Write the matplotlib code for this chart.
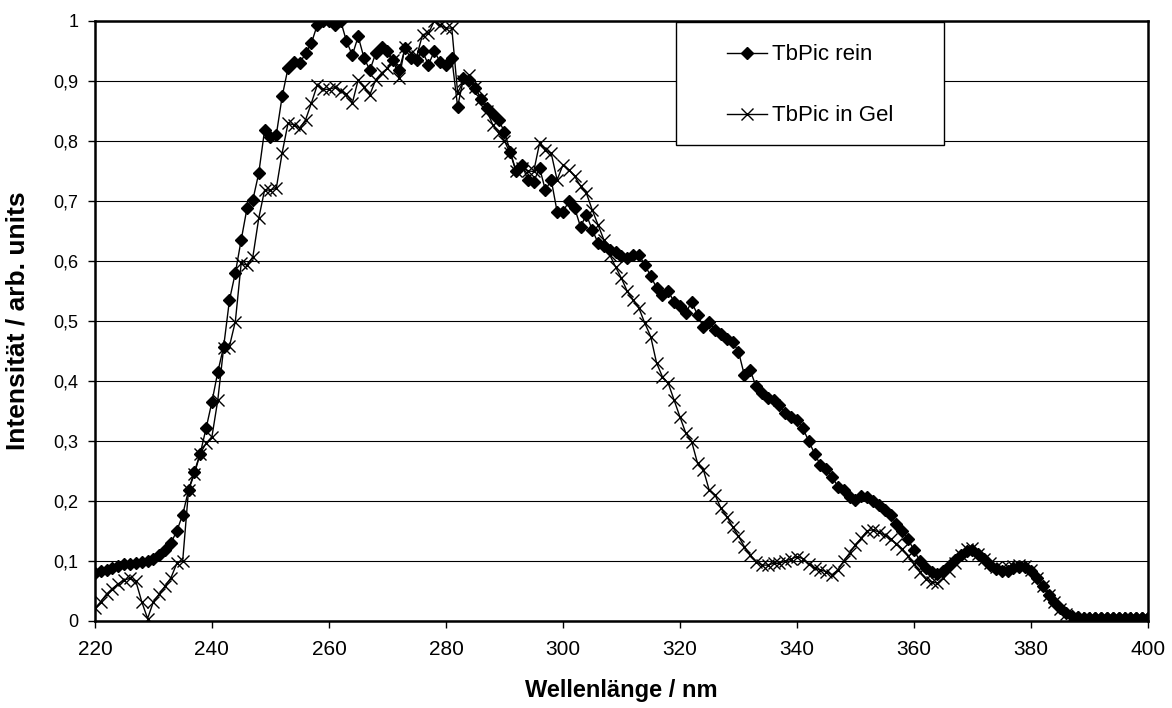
import numpy as np
import matplotlib
matplotlib.use('Agg')
import matplotlib.pyplot as plt
from matplotlib.patches import Rectangle

plt.rcParams['font.family'] = ['Liberation Sans', 'DejaVu Sans']

wavelength = np.arange(220, 401)

rein = [
    0.080, 0.083, 0.085, 0.088, 0.092, 0.095, 0.095, 0.097, 0.098, 0.100,  # 220-229
    0.104, 0.110, 0.118, 0.130, 0.150, 0.177, 0.218, 0.249, 0.279, 0.321,  # 230-239
    0.365, 0.415, 0.457, 0.535, 0.580, 0.635, 0.688, 0.702, 0.746, 0.818,  # 240-249
    0.807, 0.810, 0.874, 0.921, 0.932, 0.929, 0.946, 0.963, 0.993, 0.999,  # 250-259
    1.000, 0.993, 1.000, 0.966, 0.943, 0.974, 0.938, 0.918, 0.946, 0.957,  # 260-269
    0.949, 0.935, 0.918, 0.954, 0.938, 0.935, 0.949, 0.927, 0.949, 0.932,  # 270-279
    0.927, 0.938, 0.857, 0.904, 0.902, 0.888, 0.870, 0.854, 0.845, 0.835,  # 280-289
    0.815, 0.782, 0.749, 0.760, 0.735, 0.732, 0.755, 0.718, 0.735, 0.682,  # 290-299
    0.682, 0.699, 0.688, 0.657, 0.677, 0.652, 0.630, 0.624, 0.618, 0.614,  # 300-309
    0.608, 0.604, 0.610, 0.610, 0.593, 0.575, 0.555, 0.543, 0.549, 0.532,  # 310-319
    0.525, 0.513, 0.532, 0.510, 0.490, 0.499, 0.485, 0.479, 0.470, 0.465,  # 320-329
    0.449, 0.410, 0.418, 0.391, 0.380, 0.372, 0.368, 0.360, 0.346, 0.340,  # 330-339
    0.335, 0.321, 0.300, 0.279, 0.260, 0.254, 0.240, 0.224, 0.218, 0.207,  # 340-349
    0.202, 0.208, 0.206, 0.200, 0.193, 0.185, 0.176, 0.162, 0.150, 0.136,  # 350-359
    0.118, 0.100, 0.088, 0.082, 0.079, 0.084, 0.092, 0.102, 0.110, 0.117,  # 360-369
    0.118, 0.111, 0.104, 0.094, 0.087, 0.083, 0.084, 0.088, 0.090, 0.090,  # 370-379
    0.084, 0.072, 0.058, 0.044, 0.032, 0.022, 0.013, 0.008, 0.006, 0.005,  # 380-389
    0.005, 0.005, 0.005, 0.005, 0.005, 0.005, 0.005, 0.005, 0.005, 0.005,  # 390-399
    0.005,                                                                 # 400
]

gel = [
    0.021, 0.032, 0.045, 0.054, 0.062, 0.068, 0.071, 0.066, 0.032, 0.004,  # 220-229
    0.032, 0.045, 0.058, 0.072, 0.096, 0.100, 0.218, 0.245, 0.279, 0.296,  # 230-239
    0.307, 0.368, 0.455, 0.458, 0.499, 0.596, 0.593, 0.607, 0.671, 0.718,  # 240-249
    0.718, 0.721, 0.780, 0.829, 0.827, 0.821, 0.835, 0.863, 0.893, 0.886,  # 250-259
    0.886, 0.889, 0.883, 0.878, 0.863, 0.902, 0.889, 0.877, 0.902, 0.913,  # 260-269
    0.921, 0.935, 0.904, 0.957, 0.946, 0.941, 0.977, 0.979, 1.000, 0.993,  # 270-279
    0.988, 0.988, 0.880, 0.900, 0.910, 0.890, 0.870, 0.850, 0.827, 0.813,  # 280-289
    0.800, 0.779, 0.749, 0.755, 0.750, 0.749, 0.796, 0.785, 0.779, 0.735,  # 290-299
    0.760, 0.752, 0.741, 0.725, 0.713, 0.685, 0.660, 0.635, 0.610, 0.590,  # 300-309
    0.571, 0.549, 0.535, 0.521, 0.496, 0.474, 0.430, 0.407, 0.396, 0.368,  # 310-319
    0.340, 0.313, 0.299, 0.263, 0.252, 0.218, 0.210, 0.188, 0.174, 0.157,  # 320-329
    0.141, 0.124, 0.110, 0.099, 0.093, 0.093, 0.096, 0.096, 0.100, 0.103,  # 330-339
    0.107, 0.104, 0.095, 0.088, 0.085, 0.082, 0.077, 0.085, 0.100, 0.113,  # 340-349
    0.127, 0.138, 0.150, 0.152, 0.148, 0.143, 0.136, 0.129, 0.120, 0.108,  # 350-359
    0.095, 0.082, 0.070, 0.065, 0.063, 0.071, 0.084, 0.097, 0.110, 0.120,  # 360-369
    0.122, 0.112, 0.104, 0.096, 0.090, 0.088, 0.090, 0.092, 0.093, 0.092,  # 370-379
    0.085, 0.072, 0.058, 0.044, 0.032, 0.020, 0.012, 0.007, 0.005, 0.005,  # 380-389
    0.005, 0.005, 0.005, 0.005, 0.005, 0.005, 0.005, 0.005, 0.005, 0.005,  # 390-399
    0.005,                                                                 # 400
]

y_ticks = [0, 0.1, 0.2, 0.3, 0.4, 0.5, 0.6, 0.7, 0.8, 0.9, 1]
y_ticklabels = ['0', '0,1', '0,2', '0,3', '0,4', '0,5', '0,6', '0,7', '0,8', '0,9', '1']
x_ticks = [220, 240, 260, 280, 300, 320, 340, 360, 380, 400]


def main():
    fig = plt.figure(figsize=(11.72, 7.08), dpi=100)
    ax = fig.add_axes([0.081, 0.123, 0.8985, 0.8475])

    ax.plot(wavelength, rein, color='black', lw=1, marker='D', markersize=6,
            label='TbPic rein', zorder=3)
    ax.plot(wavelength, gel, color='black', lw=1, marker='x', markersize=9,
            markeredgewidth=1, label='TbPic in Gel', zorder=3)

    ax.set_xlim(220, 400)
    ax.set_ylim(0, 1)
    ax.set_xticks(x_ticks)
    ax.set_yticks(y_ticks)
    ax.set_yticklabels(y_ticklabels)
    ax.tick_params(direction='out', length=5, width=1, colors='black')
    ax.tick_params(axis='y', labelsize=13, pad=7)
    ax.tick_params(axis='x', labelsize=15, pad=9)
    ax.yaxis.grid(True, color='black', lw=0.8)
    ax.set_axisbelow(True)
    for s in ax.spines.values():
        s.set_linewidth(1.8)

    ax.set_xlabel('Wellenlänge / nm', fontsize=17, fontweight='bold')
    ax.xaxis.set_label_coords(0.5, -0.096)
    ax.set_ylabel('Intensität / arb. units', fontsize=19, fontweight='bold')
    ax.yaxis.label.set_verticalalignment('center')
    ax.yaxis.set_label_coords(-0.074, 0.5)

    box = Rectangle((0.552, 0.793), 0.254, 0.205, transform=ax.transAxes,
                    facecolor='white', edgecolor='black', lw=1, zorder=4)
    ax.add_patch(box)
    leg = ax.legend(loc='center left', bbox_to_anchor=(0.600, 0.8925),
                    frameon=False, fontsize=16, borderpad=0, borderaxespad=0,
                    handlelength=1.8, handletextpad=0.25, labelspacing=1.8)
    leg.set_zorder(5)

    fig.savefig('out.png', dpi=100)


if __name__ == '__main__':
    main()
